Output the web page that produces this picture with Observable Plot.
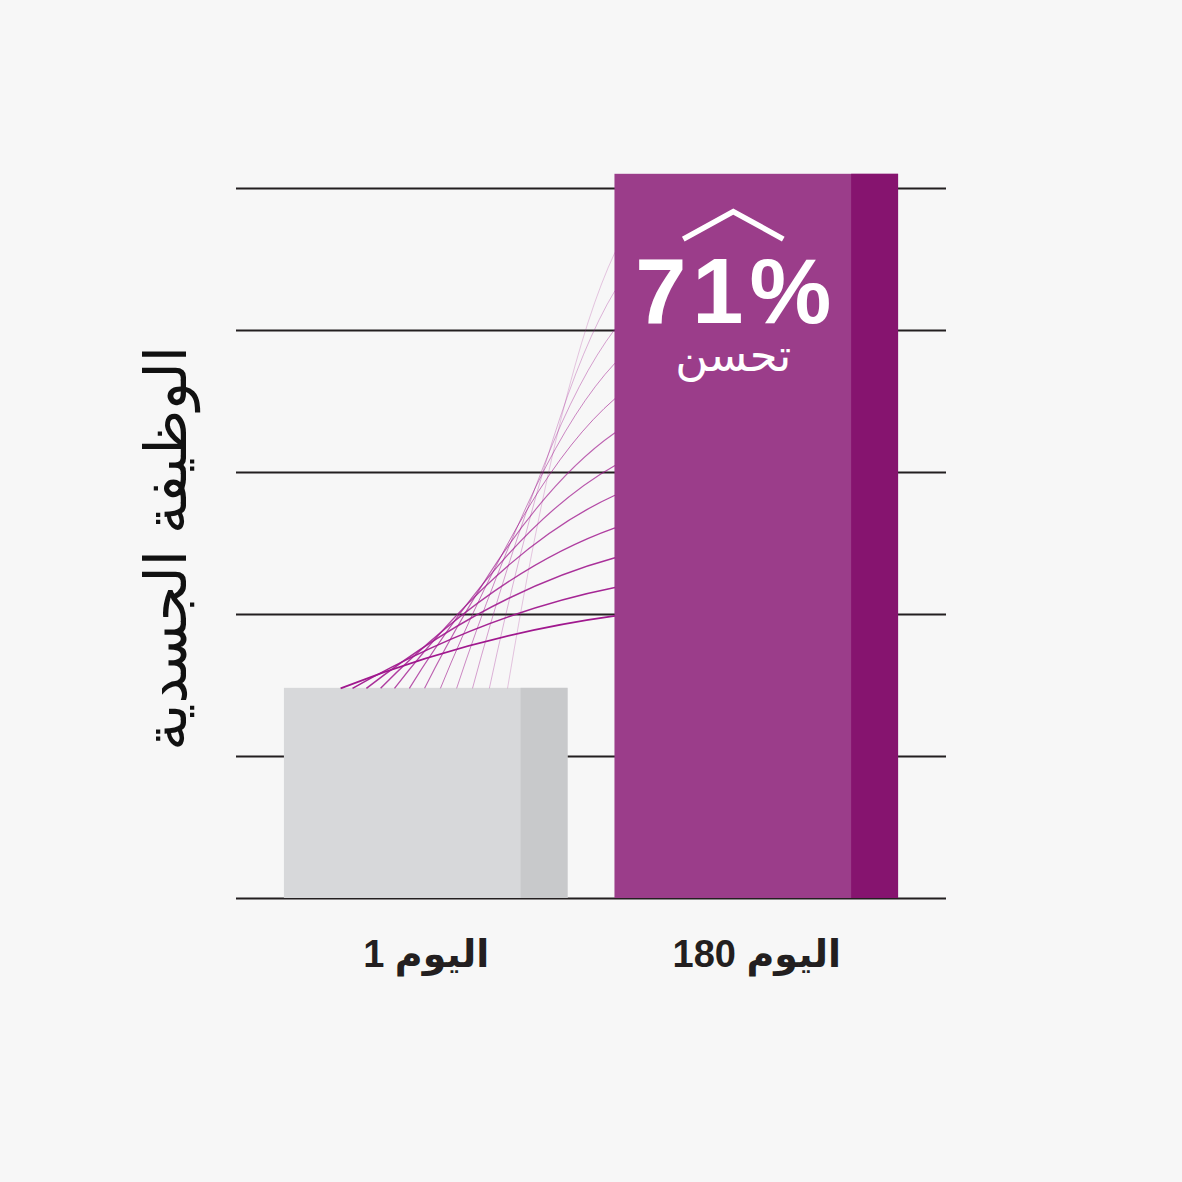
<!DOCTYPE html>
<html>
<head>
<meta charset="utf-8">
<script src="https://cdn.jsdelivr.net/npm/d3@7"></script>
<script src="https://cdn.jsdelivr.net/npm/@observablehq/plot@0.6"></script>
<style>
  html, body { margin: 0; padding: 0; background: #f7f7f7; }
  #chart svg { display: block; }
</style>
</head>
<body>
<div id="chart"></div>
<script>
// ---- data ----
const days = ["اليوم 1", "اليوم 180"];
const scores = [1.48, 5.1];                 // bar heights (grid units)
const gridTicks = [0, 1, 2, 3, 4, 5];
const yTitle = "الوظيفة الجسدية";
const improvement = "71%";
const improvementLabel = "تحسن";
// connecting curves: start position on day-1 bar top (in category-slot units), end height on day-180 bar
const curveStartX = [-0.259, -0.223, -0.181, -0.138, -0.096, -0.051, -0.005, 0.043, 0.092, 0.140, 0.191, 0.246];
const curveEndY   = [1.99, 2.19, 2.40, 2.61, 2.84, 3.05, 3.28, 3.52, 3.77, 4.01, 4.28, 4.55];

// ---- styles ----
const barFill  = ["#d7d8da", "#9b3d8a"];
const barShade = ["#c8c9cb", "#86146f"];
const halfBar = 0.429;     // half bar width in slot units
const shadeW = 0.142;      // darker right strip width in slot units
const idx = days.map((d, i) => i);
const curveIdx = curveStartX.map((d, i) => i);

// custom bowed curve (quadratic)
function bow(context) {
  let pts = [];
  return {
    areaStart() {}, areaEnd() {},
    lineStart() { pts = []; },
    point(x, y) { pts.push([+x, +y]); },
    lineEnd() {
      const [[x0, y0], [x1, y1]] = pts;
      context.moveTo(x0, y0);
      context.quadraticCurveTo(x0 + 0.5 * (x1 - x0), y0 + 0.74 * (y1 - y0), x1, y1);
    }
  };
}

// chevron symbol
const chevron = {
  draw(context, size) {
    const r = Math.sqrt(size / Math.PI);
    context.moveTo(-r, 0.275 * r);
    context.lineTo(0, -0.275 * r);
    context.lineTo(r, 0.275 * r);
  }
};

const plot = Plot.plot({
  width: 1182,
  height: 1182,
  marginLeft: 236,
  marginRight: 236,
  marginTop: 188,
  marginBottom: 284,
  style: { background: "#f7f7f7", fontFamily: "'Liberation Sans', 'DejaVu Sans', sans-serif", color: "#231f20" },
  x: { domain: [-0.574, 1.574], axis: null },
  y: { domain: [0, 5], axis: null },
  opacity: { domain: [0, 1], range: [0, 1] },
  marks: [
    Plot.ruleY(gridTicks, { stroke: "#231f20", strokeWidth: 1.8 }),
    Plot.rectY(idx, { x1: i => i - halfBar, x2: i => i + halfBar, y1: 0, y2: i => scores[i], fill: i => barFill[i] }),
    Plot.rectY(idx, { x1: i => i + halfBar - shadeW, x2: i => i + halfBar, y1: 0, y2: i => scores[i], fill: i => barShade[i] }),
    Plot.link(curveIdx, {
      x1: i => curveStartX[i], y1: () => scores[0],
      x2: () => 1 - halfBar, y2: i => curveEndY[i],
      curve: bow,
      stroke: "#a0188e",
      strokeWidth: i => 1.7 - i * 0.1,
      strokeOpacity: i => 1 - i * 0.055
    }),
    Plot.dot([1], { x: i => i, y: i => scores[i], dx: -23.5, dy: 51, r: 50, symbol: chevron,
      stroke: "white", strokeWidth: 5.5, fill: "none", strokeLinejoin: "miter" }),
    Plot.text([1], { x: i => i, y: i => scores[i], dx: -20.5, dy: 149, text: () => improvement,
      lineAnchor: "bottom", fill: "white", fontSize: 92, fontWeight: "bold" }),
    Plot.text([1], { x: i => i, y: i => scores[i], dx: -23.5, dy: 197, text: () => improvementLabel,
      lineAnchor: "bottom", fill: "white", fontSize: 45 }),
    Plot.text([yTitle], { frameAnchor: "left", dx: -69, dy: 5, rotate: -90, textAnchor: "middle",
      fontSize: 58, fill: "#111" }),
    Plot.axisX({ ticks: idx, tickFormat: i => days[i], tickSize: 0, tickPadding: 42,
      fontSize: 38, fontWeight: "bold", fill: "#231f20" })
  ]
});

const svg = d3.select(plot);
svg.selectAll('g[aria-label="x-axis tick label"] text').attr("direction", "rtl");
svg.selectAll("text").filter(function () { return this.textContent === improvement; })
  .attr("letter-spacing", 6);
document.getElementById("chart").appendChild(plot);
</script>
</body>
</html>
